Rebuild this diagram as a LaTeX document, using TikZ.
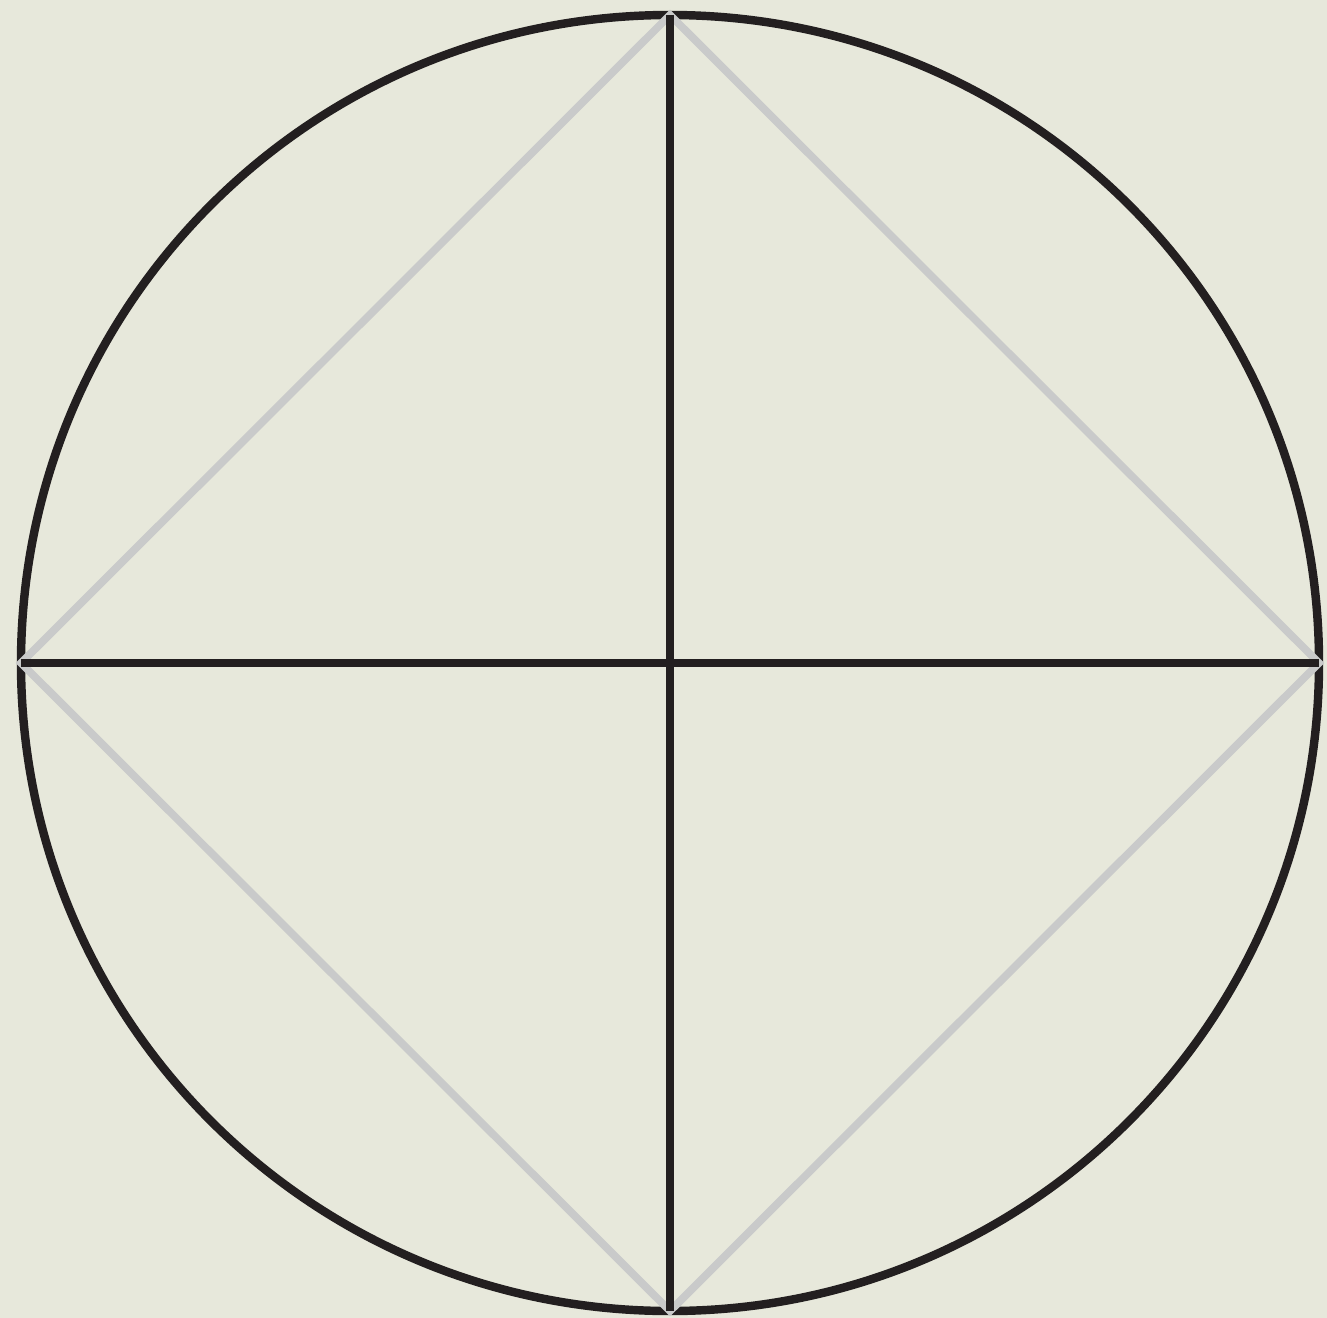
\documentclass[tikz,border=0pt]{standalone}
\definecolor{paper}{HTML}{E7E8DB}
\definecolor{ink}{HTML}{231F20}
\definecolor{pale}{HTML}{C9CACA}
\begin{document}
\begin{tikzpicture}[x=0.01cm,y=-0.01cm,
  blackline/.style={draw=ink,line width=2.4pt},
  grayline/.style={draw=pale,line width=2.2pt,line join=miter}]
\fill[paper] (0,0) rectangle (1327,1318);
\useasboundingbox (0,0) rectangle (1327,1318);
\coordinate (C) at (670,663);
\coordinate (T) at (670,15);
\coordinate (B) at (670,1311);
\coordinate (L) at (21,663);
\coordinate (R) at (1319,663);
\draw[blackline] (C) ellipse [x radius=649,y radius=648];
\draw[grayline] (T) -- (R) -- (B) -- (L) -- cycle;
\draw[blackline] (T) -- (B);
\draw[blackline] (L) -- (R);
\end{tikzpicture}
\end{document}
